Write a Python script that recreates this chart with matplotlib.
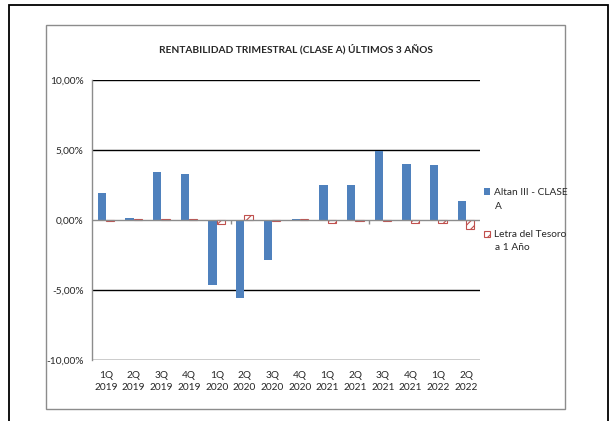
import matplotlib.pyplot as plt
import numpy as np
from matplotlib.patches import Rectangle

quarters = ['1Q\n2019', '2Q\n2019', '3Q\n2019', '4Q\n2019', '1Q\n2020', '2Q\n2020', '3Q\n2020',
            '4Q\n2020', '1Q\n2021', '2Q\n2021', '3Q\n2021', '4Q\n2021', '1Q\n2022', '2Q\n2022']
altan = [1.90, 0.14, 3.40, 3.29, -4.64, -5.60, -2.86, 0.07, 2.52, 2.52, 4.95, 4.00, 3.95, 1.33]
letra = [-0.10, 0.05, 0.05, 0.05, -0.30, 0.35, -0.10, 0.05, -0.24, -0.10, -0.10, -0.20, -0.22, -0.64]
yticks = [-10, -5, 0, 5, 10]
ytick_labels = ['-10,00%', '-5,00%', '0,00%', '5,00%', '10,00%']
series_names = [('Altan III - CLASE', 'A'), ('Letra del Tesoro', 'a 1 Año')]

W, H = 613, 421
plt.rcParams['font.family'] = ['Lato', 'DejaVu Sans']
plt.rcParams['hatch.linewidth'] = 0.8
FS = 7.3
TXT = '#262626'

fig = plt.figure(figsize=(W / 100, H / 100), dpi=100)

# outer frame and chart area frame
fig.patches.append(Rectangle((9 / W, -0.05), 599 / W, 1 - 5 / H + 0.05, transform=fig.transFigure,
                             fill=False, edgecolor='black', linewidth=1.3))
fig.patches.append(Rectangle((46 / W, 1 - 409 / H), 519 / W, 384 / H, transform=fig.transFigure,
                             fill=False, edgecolor='#8c8c8c', linewidth=1))

ax = fig.add_axes([92 / W, 1 - 360 / H, 388 / W, 280 / H])
x = np.arange(len(quarters))
bw = 0.3
b1 = ax.bar(x - bw / 2, altan, bw, color='#4F81BD', zorder=3)
b2 = ax.bar(x + bw / 2, letra, bw, color='white', edgecolor='#C0504D', hatch='////', linewidth=0.8,
            zorder=3)

ax.set_xlim(-0.5, len(quarters) - 0.5)
ax.set_ylim(-10, 10)
ax.set_yticks(yticks)
ax.set_yticklabels(ytick_labels)
ax.set_xticks(x)
ax.set_xticklabels(quarters, linespacing=1.35)
ax.tick_params(axis='both', length=0, labelsize=FS, colors=TXT)
ax.tick_params(axis='y', pad=6)
ax.tick_params(axis='x', pad=8)

for v in yticks:
    if v != 0:
        ax.axhline(v, color='black', linewidth=1, zorder=1)
ax.axhline(0, color='#8c8c8c', linewidth=1, zorder=4)
ax.vlines([4.5, 9.5], -0.25, 0, color='#8c8c8c', linewidth=1, zorder=4)

for s in ['top', 'right', 'bottom']:
    ax.spines[s].set_visible(False)
ax.spines['left'].set_color('#8c8c8c')
ax.spines['left'].set_linewidth(1)

fig.text(296 / W, 1 - 49 / H, 'RENTABILIDAD TRIMESTRAL (CLASE A) ÚLTIMOS 3 AÑOS',
         ha='center', va='center', fontsize=7.3, fontweight='bold', color=TXT)

# legend: first line next to the key, second line below it
leg = fig.legend([b1, b2], [n[0] for n in series_names], loc='upper left',
                 bbox_to_anchor=(484 / W, 1 - 188 / H), frameon=False,
                 handlelength=0.6, handleheight=0.6, handletextpad=0.35, labelspacing=3.3,
                 fontsize=FS, borderaxespad=0, borderpad=0, labelcolor=TXT)
for (first, second), ty in zip(series_names, [206, 248]):
    fig.text(495 / W, 1 - ty / H, second, ha='left', va='center', fontsize=FS, color=TXT)

fig.savefig('out.png', dpi=100)
